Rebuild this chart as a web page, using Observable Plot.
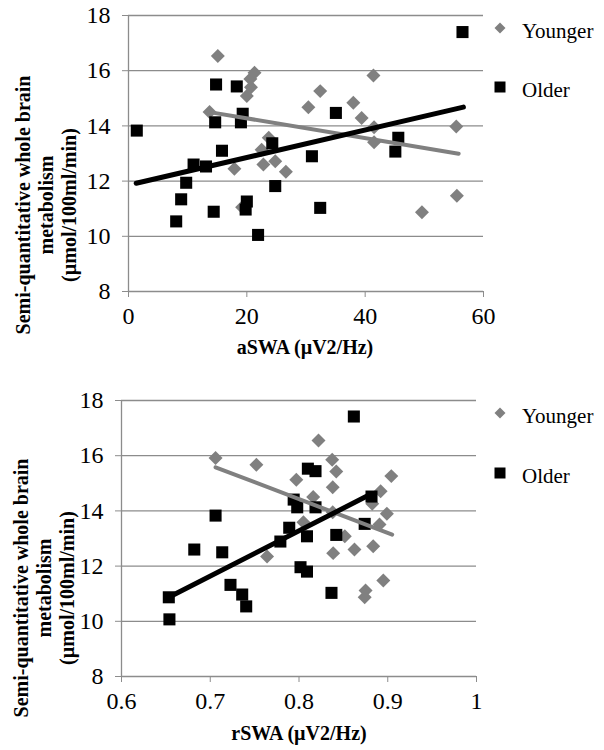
<!DOCTYPE html>
<html><head><meta charset="utf-8">
<script src="https://cdn.jsdelivr.net/npm/d3@7"></script>
<script src="https://cdn.jsdelivr.net/npm/@observablehq/plot@0.6"></script>
<style>
body{margin:0;background:#fff;}
#wrap{position:relative;width:604px;height:750px;font-family:"Liberation Serif","Times New Roman",serif;color:#000;overflow:hidden;}
.panel{position:absolute;left:0;}
.ytitle{position:absolute;font-weight:bold;font-size:20px;line-height:23px;text-align:center;white-space:nowrap;transform:translate(-50%,-50%) rotate(-90deg);}
.xtitle{position:absolute;font-weight:bold;font-size:20px;line-height:1;transform:translate(-50%,-50%);white-space:nowrap;}
.leg{position:absolute;font-size:21px;line-height:1;white-space:nowrap;transform:translateY(-50%);}
.legm{position:absolute;transform:translate(-50%,-50%);}
svg [aria-label="x-axis tick"] path, svg [aria-label="y-axis tick"] path,
svg [aria-label="x-axis"] line, svg [aria-label="y-axis"] line{stroke:#8c8c8c;}
</style>
</head><body>
<div id="wrap"></div>
<script>
// ---------- data ----------
const seriesNames = ["Younger", "Older"];
const yTicks = [8, 10, 12, 14, 16, 18];
const aswaTicks = [0, 20, 40, 60];
const rswaTicks = [0.6, 0.7, 0.8, 0.9, 1];

// aSWA panel
const aswaYounger = [
  [15.1,16.53],[21.3,15.93],[20.6,15.7],[20.7,15.4],[20.0,15.08],[13.7,14.5],
  [23.7,13.57],[22.5,13.14],[17.9,12.45],[22.8,12.6],[24.8,12.72],[26.6,12.34],
  [19.2,11.05],[30.4,14.68],[32.4,15.26],[38.0,14.84],[39.4,14.29],[41.4,15.83],
  [41.5,13.95],[41.5,13.41],[55.4,13.98],[55.5,11.47],[49.6,10.87]
];
const aswaOlder = [
  [1.4,13.83],[14.8,15.5],[18.3,15.43],[19.3,14.44],[14.65,14.13],[19.0,14.13],
  [15.8,13.1],[11.0,12.6],[13.1,12.53],[9.75,11.94],[8.9,11.34],[8.06,10.54],
  [14.4,10.89],[20.0,11.26],[19.8,10.97],[21.9,10.05],[24.3,13.37],[24.8,11.82],
  [31.0,12.9],[32.4,11.03],[35.05,14.47],[56.45,17.4],[45.6,13.57],[45.1,13.07]
];
const aswaYoungerTrend = [[13.7,14.5],[55.8,12.99]];
const aswaOlderTrend = [[1.3,11.92],[56.6,14.68]];

// rSWA panel
const rswaYounger = [
  [0.706,15.92],[0.752,15.67],[0.797,15.13],[0.816,14.5],[0.805,13.59],[0.764,12.35],
  [0.822,16.55],[0.8374,15.85],[0.842,15.43],[0.838,14.86],[0.904,15.26],[0.892,14.71],
  [0.8825,14.26],[0.899,13.9],[0.8907,13.51],[0.838,13.95],[0.8516,13.08],[0.8385,12.47],
  [0.8625,12.6],[0.8836,12.72],[0.895,11.48],[0.875,11.12],[0.874,10.87]
];
const rswaOlder = [
  [0.6533,10.87],[0.654,10.07],[0.706,13.83],[0.682,12.6],[0.7135,12.5],[0.7228,11.32],
  [0.736,10.97],[0.7405,10.54],[0.779,12.89],[0.789,13.39],[0.794,14.41],[0.798,14.13],
  [0.8017,11.96],[0.809,11.8],[0.809,13.08],[0.810,15.53],[0.8186,15.44],[0.8186,14.13],
  [0.8618,17.42],[0.842,13.13],[0.8366,11.03],[0.874,13.53],[0.8817,14.52]
];
const rswaYoungerTrend = [[0.706,15.58],[0.905,13.14]];
const rswaOlderTrend = [[0.6533,10.87],[0.8817,14.62]];

const yTitleLines = ["Semi-quantitative whole brain", "metabolism", "(µmol/100ml/min)"];
const xTitles = ["aSWA (µV2/Hz)", "rSWA (µV2/Hz)"];

// ---------- drawing ----------
const GRAY = "#808080", AXIS = "#8c8c8c";
const SERIF = '"Liberation Serif", "Times New Roman", serif';
const wrap = document.getElementById("wrap");

function panel({top, height, mL, mR, mT, mB, xDomain, xTicks, younger, older, yTrend, oTrend}) {
  const chart = Plot.plot({
    width: 604, height,
    marginLeft: mL, marginRight: mR, marginTop: mT, marginBottom: mB,
    style: {fontFamily: SERIF, fontSize: "24px", color: "#000", background: "transparent", overflow: "visible"},
    x: {domain: xDomain, ticks: xTicks, tickSize: 6, tickPadding: 9, label: null, tickFormat: d => String(+d.toFixed(2))},
    y: {domain: [8, 18], ticks: yTicks, tickSize: 6, tickPadding: 12, label: null},
    marks: [
      Plot.ruleY(yTicks.filter(d => d > yTicks[0]), {stroke: AXIS, strokeWidth: 1.3}),
      Plot.ruleY([yTicks[0]], {stroke: AXIS, strokeWidth: 1.3}),
      Plot.ruleX([xDomain[0]], {stroke: AXIS, strokeWidth: 1.3}),
      Plot.dot(younger, {x: d => d[0], y: d => d[1], symbol: "diamond2", r: 6.3, fill: GRAY, stroke: "none"}),
      Plot.dot(older, {x: d => d[0], y: d => d[1], symbol: "square", r: 6.8, fill: "#000", stroke: "none"}),
      Plot.line(yTrend, {x: d => d[0], y: d => d[1], stroke: GRAY, strokeWidth: 4, strokeLinecap: "round"}),
      Plot.line(oTrend, {x: d => d[0], y: d => d[1], stroke: "#000", strokeWidth: 5, strokeLinecap: "round"})
    ]
  });
  // force the serif face on every axis text
  chart.querySelectorAll("g, text").forEach(el => {
    if (el.hasAttribute("font-family")) el.setAttribute("font-family", SERIF);
  });
  chart.querySelectorAll("text").forEach(t => {
    t.setAttribute("font-family", SERIF);
    t.style.fontFamily = SERIF;
    t.style.fontSize = "24px";
    t.style.fontVariant = "normal";
    t.setAttribute("fill", "#000");
  });
  chart.classList.add("panel");
  chart.style.top = top + "px";
  wrap.appendChild(chart);
}

panel({top: 0, height: 340, mL: 128, mR: 121, mT: 15, mB: 49, xDomain: [0, 60], xTicks: aswaTicks,
  younger: aswaYounger, older: aswaOlder, yTrend: aswaYoungerTrend, oTrend: aswaOlderTrend});
panel({top: 340, height: 410, mL: 121, mR: 128, mT: 60, mB: 74, xDomain: [0.6, 1], xTicks: rswaTicks,
  younger: rswaYounger, older: rswaOlder, yTrend: rswaYoungerTrend, oTrend: rswaOlderTrend});

// y titles (three lines, rotated)
[[46, 205], [44, 588]].forEach(([cx, cy]) => {
  const d = document.createElement("div");
  d.className = "ytitle";
  d.style.left = cx + "px"; d.style.top = cy + "px";
  d.innerHTML = yTitleLines.join("<br>");
  wrap.appendChild(d);
});
// x titles
[[305, 347], [299, 733]].forEach(([cx, cy], i) => {
  const d = document.createElement("div");
  d.className = "xtitle";
  d.style.left = cx + "px"; d.style.top = cy + "px";
  d.textContent = xTitles[i];
  wrap.appendChild(d);
});
// legends
function marker(kind) {
  return kind === 0
    ? `<svg width="14" height="14"><path d="M7,1.5L12.5,7L7,12.5L1.5,7Z" fill="${GRAY}"/></svg>`
    : `<svg width="14" height="14"><rect x="1.5" y="1.5" width="11" height="11" fill="#000"/></svg>`;
}
[[30, 89], [415, 475]].forEach(ys => {
  ys.forEach((y, i) => {
    const m = document.createElement("div");
    m.className = "legm";
    m.style.left = "500px"; m.style.top = y + "px";
    m.innerHTML = marker(i);
    wrap.appendChild(m);
    const t = document.createElement("div");
    t.className = "leg";
    t.style.left = "522px"; t.style.top = (y + 1) + "px";
    t.textContent = seriesNames[i];
    wrap.appendChild(t);
  });
});
</script>
</body></html>
